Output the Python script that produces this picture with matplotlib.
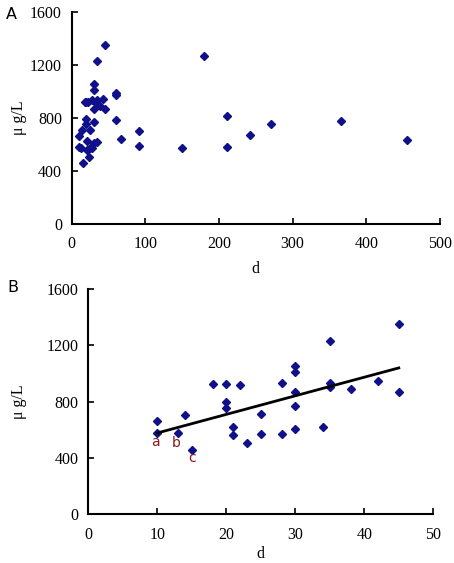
import numpy as np
import matplotlib
matplotlib.use("Agg")
from matplotlib import pyplot as plt

# panel B data (d <= 45)
d_b = [10, 10, 13, 14, 15, 18, 20, 22, 20, 20, 21, 21, 23, 25, 25, 28, 28,
       30, 30, 30, 30, 30, 34, 35, 35, 35, 38, 42, 45, 45]
c_b = [663, 580, 575, 705, 457, 923, 923, 916, 795, 757, 622, 561, 504, 712, 573, 933, 573,
       1056, 1008, 869, 767, 608, 618, 1231, 935, 906, 892, 944, 1349, 866]

# extra points only in panel A
d_extra = [60, 60, 60, 67, 91, 91, 150, 180, 211, 211, 242, 270, 365, 455]
c_extra = [987, 970, 781, 637, 702, 585, 570, 1266, 812, 583, 670, 754, 779, 635]

d_a = d_b + d_extra
c_a = c_b + c_extra

lbl_txt = ['a', 'b', 'c']
lbl_x = [9.8, 12.7, 15.0]
lbl_y = [516, 505, 402]

W, H = 454, 563
fig = plt.figure(figsize=(W / 100, H / 100), dpi=100)
serif = 'Liberation Serif'
mcol = '#10108a'

def setup(ax, xmax, xstep, left_px, top_px, bot_px):
    ax.spines['top'].set_visible(False)
    ax.spines['right'].set_visible(False)
    for s in ['left', 'bottom']:
        ax.spines[s].set_linewidth(1.5)
    ax.set_xlim(0, xmax)
    ax.set_ylim(0, 1600)
    ax.set_xticks(np.arange(0, xmax + 1, xstep))
    ax.set_yticks([0, 400, 800, 1200, 1600])
    ax.tick_params(direction='in', length=4, width=1.2, labelsize=11.5)
    ax.tick_params(axis='x', pad=9)
    ax.tick_params(axis='y', pad=7)
    for t in ax.get_xticklabels() + ax.get_yticklabels():
        t.set_family(serif)
    ax.set_xlabel('d', family=serif, fontsize=11.5)
    ax.set_ylabel('μ g/L', family=serif, fontsize=11.5)
    bb = ax.get_position()
    h_px = bb.height * H
    w_px = bb.width * W
    ax.xaxis.set_label_coords(0.5, -(bot_px - top_px) / h_px, transform=ax.transAxes)
    ax.xaxis.label.set_va('top')
    ax.yaxis.set_label_coords(-(left_px - 19) / w_px, 0.5)
    ax.yaxis.label.set_va('center')

# panel A
axA = fig.add_axes([71.6 / W, 1 - 224 / H, (440 - 71.6) / W, (224 - 11.7) / H])
axA.plot(d_a, c_a, 'D', color=mcol, markersize=4.4, clip_on=False)
setup(axA, 500, 100, 71.6, 224, 261)
fig.text(6 / W, 1 - 19 / H, 'A', family='DejaVu Sans', fontsize=11.5, va='baseline')

# panel B
axB = fig.add_axes([88.3 / W, 1 - 514.3 / H, (433.3 - 88.3) / W, (514.3 - 289) / H])
axB.plot(d_b, c_b, 'D', color=mcol, markersize=4.4, clip_on=False)
k, b = np.polyfit(d_b, c_b, 1)
xl = np.array([min(d_b), max(d_b)])
axB.plot(xl, k * xl + b, color='black', linewidth=2)
for t, x, y in zip(lbl_txt, lbl_x, lbl_y):
    axB.text(x, y, t, color='#8b1a1a', fontsize=10, ha='center', va='center',
             family='DejaVu Sans')
setup(axB, 50, 10, 88.3, 514.3, 546)
fig.text(7 / W, 1 - 292 / H, 'B', family='DejaVu Sans', fontsize=11.5, va='baseline')

fig.savefig('out.png', dpi=100)
